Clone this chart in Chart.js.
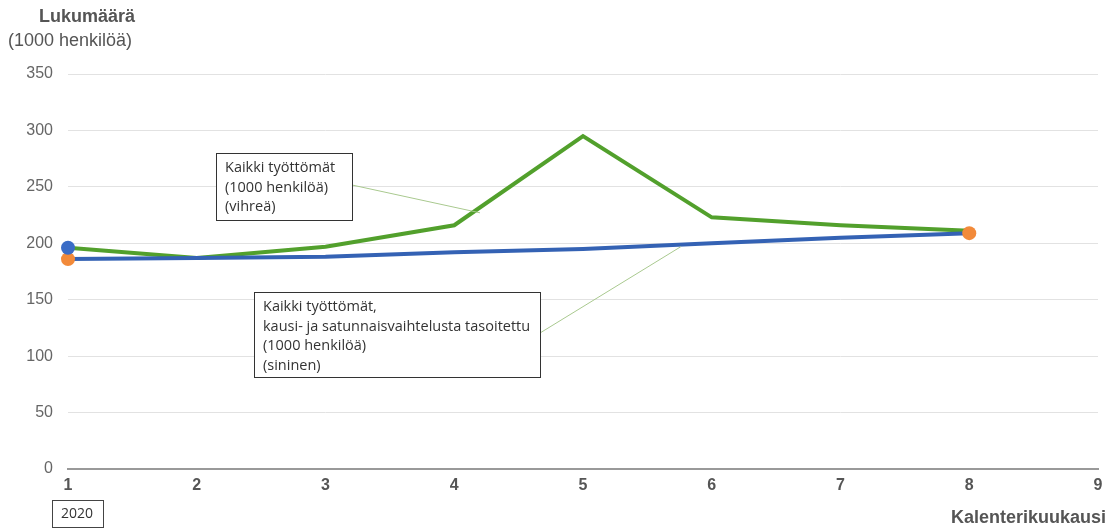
<!DOCTYPE html>
<html>
<head>
<meta charset="utf-8">
<script src="https://cdn.jsdelivr.net/npm/chart.js@4.4.1/dist/chart.umd.min.js"></script>
<style>
  html, body { margin: 0; padding: 0; background: #fff; }
  #wrap { width: 1120px; height: 530px; position: relative; }
</style>
</head>
<body>
<div id="wrap"><canvas id="kaavio" width="1120" height="530"></canvas></div>
<script>
// Kuukaudet ja arvot (1000 henkilöä)
var kuukaudet = [1, 2, 3, 4, 5, 6, 7, 8];
var kaikkiTyottomat = [196, 187, 197, 216, 295, 223, 216, 211];
var tasoitettu = [186, 187, 188, 192, 195, 200, 205, 209];
// Korostetut pisteet
var sinisetPisteet = [{ x: 1, y: 196 }];
var oranssitPisteet = [{ x: 1, y: 186 }, { x: 8, y: 209 }];
var yTikit = [0, 50, 100, 150, 200, 250, 300, 350];

function pisteet(arvot) {
    return kuukaudet.map(function (k, i) { return { x: k, y: arvot[i] }; });
}

// Piirretään otsikot ja selitelaatikot
var tekstit = {
    id: 'tekstit',
    afterDraw: function (chart) {
        var ctx = chart.ctx;
        var xs = chart.scales.x, ys = chart.scales.y;
        ctx.save();

        // Akseliotsikot
        ctx.fillStyle = '#555';
        ctx.textBaseline = 'middle';
        ctx.textAlign = 'left';
        ctx.font = 'bold 18px "Liberation Sans", Arial, sans-serif';
        ctx.fillText('Lukumäärä', 39, 17);
        ctx.font = '18px "Liberation Sans", Arial, sans-serif';
        ctx.fillText('(1000 henkilöä)', 8, 41);
        ctx.textAlign = 'right';
        ctx.font = 'bold 18px "Liberation Sans", Arial, sans-serif';
        ctx.fillText('Kalenterikuukausi', 1106, 518);

        // 2020-laatikko
        ctx.strokeStyle = '#444';
        ctx.lineWidth = 1;
        ctx.strokeRect(52.5, 500.5, 51, 27);
        ctx.fillStyle = '#333';
        ctx.textAlign = 'left';
        ctx.font = '14px "Open Sans", sans-serif';
        ctx.fillText('2020', 61, 514);

        // Yhdysviivat
        ctx.strokeStyle = '#a9c98f';
        ctx.lineWidth = 1;
        ctx.beginPath();
        ctx.moveTo(352, 185);
        ctx.lineTo(xs.getPixelForValue(4.2), ys.getPixelForValue(227));
        ctx.moveTo(540, 333);
        ctx.lineTo(xs.getPixelForValue(5.76), ys.getPixelForValue(197));
        ctx.stroke();

        // Selitelaatikot
        var laatikot = [
            { x: 216, y: 153, w: 136, h: 67, rivit: ['Kaikki työttömät', '(1000 henkilöä)', '(vihreä)'] },
            { x: 254, y: 292, w: 286, h: 85, rivit: ['Kaikki työttömät,', 'kausi- ja satunnaisvaihtelusta tasoitettu', '(1000 henkilöä)', '(sininen)'] }
        ];
        ctx.font = '14.5px "Open Sans", sans-serif';
        laatikot.forEach(function (b) {
            ctx.fillStyle = '#fff';
            ctx.fillRect(b.x, b.y, b.w, b.h);
            ctx.strokeStyle = '#333';
            ctx.strokeRect(b.x + 0.5, b.y + 0.5, b.w, b.h);
            ctx.fillStyle = '#333';
            b.rivit.forEach(function (r, i) {
                ctx.fillText(r, b.x + 9, b.y + 15 + i * 19.5);
            });
        });
        ctx.restore();
    }
};

new Chart(document.getElementById('kaavio').getContext('2d'), {
    type: 'line',
    data: {
        datasets: [
            {
                data: sinisetPisteet,
                order: 0,
                showLine: false,
                clip: false,
                pointRadius: 7,
                pointBackgroundColor: '#3a6cc6',
                pointBorderWidth: 0
            },
            {
                data: oranssitPisteet,
                order: 0,
                showLine: false,
                clip: false,
                pointRadius: 7,
                pointBackgroundColor: '#f28a3a',
                pointBorderWidth: 0
            },
            {
                data: pisteet(kaikkiTyottomat),
                order: 2,
                borderColor: '#52a02c',
                borderWidth: 4,
                pointRadius: 0,
                tension: 0
            },
            {
                data: pisteet(tasoitettu),
                order: 1,
                borderColor: '#3462b4',
                borderWidth: 4,
                pointRadius: 0,
                tension: 0
            }
        ]
    },
    options: {
        responsive: false,
        animation: false,
        devicePixelRatio: 1,
        layout: { padding: { top: 74, right: 22, left: 0, bottom: 0 } },
        plugins: {
            legend: { display: false },
            tooltip: { enabled: false }
        },
        scales: {
            x: {
                type: 'linear',
                min: 1,
                max: 9,
                afterFit: function (s) { s.height = 61; },
                ticks: {
                    stepSize: 1,
                    padding: 7,
                    color: '#555',
                    font: { family: '"Liberation Sans", Arial, sans-serif', size: 16, weight: 'bold' }
                },
                grid: { display: false, drawTicks: false },
                border: { color: '#999', width: 2 }
            },
            y: {
                min: 0,
                max: 350,
                afterFit: function (s) { s.width = 68; },
                afterBuildTicks: function (s) { s.ticks = yTikit.map(function (v) { return { value: v }; }); },
                ticks: {
                    padding: 15,
                    color: '#666',
                    font: { family: '"Liberation Sans", Arial, sans-serif', size: 16 }
                },
                grid: { color: '#e2e2e2', drawTicks: false },
                border: { display: false }
            }
        }
    },
    plugins: [tekstit]
});
</script>
</body>
</html>
